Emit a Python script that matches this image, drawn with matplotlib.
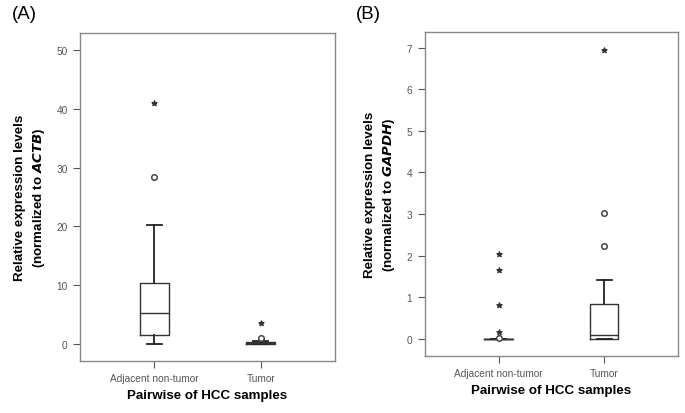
import matplotlib
matplotlib.use("Agg")
import matplotlib.pyplot as plt

plt.rcParams['font.family'] = ['Liberation Sans', 'DejaVu Sans']

categories = ["Adjacent non-tumor", "Tumor"]

# Panel A (ACTB) box stats: whislo, q1, med, q3, whishi
a_whislo = [0.0, 0.0]
a_q1 = [1.5, 0.0]
a_med = [5.3, 0.12]
a_q3 = [10.3, 0.25]
a_whishi = [20.3, 0.55]
a_circle_cat = [1, 2]
a_circle_val = [28.4, 1.0]
a_star_cat = [1, 2]
a_star_val = [41.0, 3.6]

# Panel B (GAPDH)
b_whislo = [0.0, 0.0]
b_q1 = [0.0, 0.0]
b_med = [0.0, 0.08]
b_q3 = [0.0, 0.83]
b_whishi = [0.0, 1.42]
b_circle_cat = [1, 2, 2]
b_circle_val = [0.03, 2.23, 3.02]
b_star_cat = [1, 1, 1, 1, 2]
b_star_val = [0.17, 0.82, 1.65, 2.05, 6.95]

a_yticks = [0, 10, 20, 30, 40, 50]
b_yticks = [0, 1, 2, 3, 4, 5, 6, 7]

fig = plt.figure(figsize=(6.85, 4.14), dpi=100)
axA = fig.add_axes([0.117, 0.126, 0.372, 0.792])
axB = fig.add_axes([0.620, 0.138, 0.370, 0.782])

def draw(ax, wl, q1, med, q3, wh, ccat, cval, scat, sval, yticks, ylim, gene):
    stats = []
    for i in range(len(categories)):
        stats.append(dict(whislo=wl[i], q1=q1[i], med=med[i], q3=q3[i], whishi=wh[i], fliers=[]))
    ax.bxp(stats, positions=[1, 2], widths=0.27, showfliers=False,
           boxprops=dict(color='#333333', linewidth=1.0),
           medianprops=dict(color='#333333', linewidth=1.0),
           whiskerprops=dict(color='#222222', linewidth=1.3),
           capprops=dict(color='#222222', linewidth=1.3),
           capwidths=0.14)
    ax.scatter(ccat, cval, s=16, facecolors='white', edgecolors='#444444', linewidths=1.1, zorder=3)
    ax.scatter(scat, sval, marker='*', s=14, color='#333333', zorder=3)
    ax.set_xlim(0.3, 2.7)
    ax.set_ylim(*ylim)
    ax.set_xticks([1, 2])
    ax.set_xticklabels(categories)
    ax.set_yticks(yticks)
    for s in ax.spines.values():
        s.set_color('#888888')
        s.set_linewidth(1.0)
    ax.tick_params(axis='both', colors='#555555', labelsize=7.3, length=5, width=0.8, pad=4)
    ax.tick_params(axis='y', pad=4)
    ax.set_xlabel("Pairwise of HCC samples", fontsize=9.6, fontweight='bold', labelpad=4)
    ax.set_ylabel("Relative expression levels\n(normalized to $\\mathbfit{" + gene + "}$)",
                  fontsize=9.6, fontweight='bold', labelpad=7, linespacing=1.4)

draw(axA, a_whislo, a_q1, a_med, a_q3, a_whishi, a_circle_cat, a_circle_val,
     a_star_cat, a_star_val, a_yticks, (-2.9, 52.9), "ACTB")
draw(axB, b_whislo, b_q1, b_med, b_q3, b_whishi, b_circle_cat, b_circle_val,
     b_star_cat, b_star_val, b_yticks, (-0.41, 7.37), "GAPDH")

fig.text(0.017, 0.985, "(A)", fontsize=13.5, va='top', ha='left')
fig.text(0.520, 0.985, "(B)", fontsize=13.5, va='top', ha='left')

fig.savefig("out.png", dpi=100)
